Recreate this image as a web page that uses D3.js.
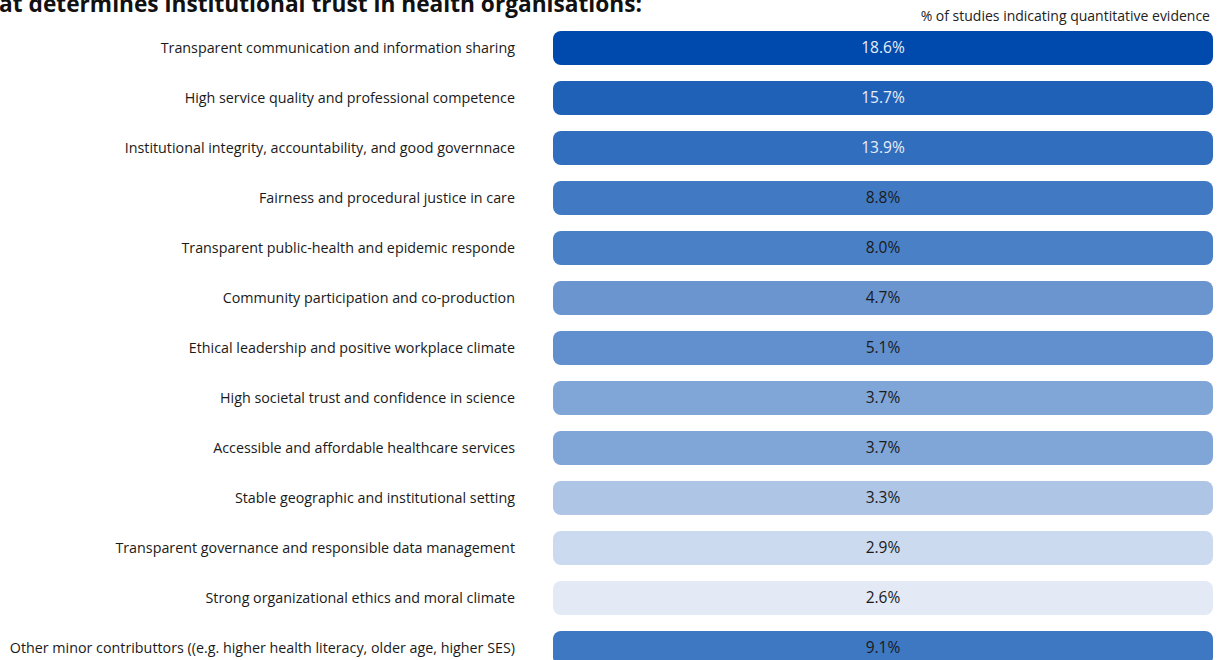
<!DOCTYPE html>
<html>
<head>
<meta charset="utf-8">
<script src="https://cdn.jsdelivr.net/npm/d3@7"></script>
<style>
  body { margin: 0; background: #fff; }
  svg { display: block; font-family: "Open Sans", sans-serif; }
</style>
</head>
<body>
<svg id="chart"></svg>
<script>
var factors = [
  "Transparent communication and information sharing",
  "High service quality and professional competence",
  "Institutional integrity, accountability, and good governnace ",
  "Fairness and procedural justice in care",
  "Transparent public-health and epidemic responde",
  "Community participation and co-production",
  "Ethical leadership and positive workplace climate",
  "High societal trust and confidence in science",
  "Accessible and affordable healthcare services",
  "Stable geographic and institutional setting",
  "Transparent governance and responsible data management",
  "Strong organizational ethics and moral climate",
  "Other minor contributtors ((e.g. higher health literacy, older age, higher SES)"
]

var shares = [18.6, 15.7, 13.9, 8.8, 8.0, 4.7, 5.1, 3.7, 3.7, 3.3, 2.9, 2.6, 9.1]

var title = "What determines institutional trust in health organisations:"
var columnHeader = "% of studies indicating quantitative evidence"

var screen = {width: 1221, height: 660}
var svg = d3.select("#chart")
    .attr("width", screen.width)
    .attr("height", screen.height)

var rows = factors.map(function(f, i) { return {factor: f, share: shares[i]} })

var yScale = d3.scaleBand()
    .domain(factors)
    .range([23, 673])
    .paddingInner(0.32)
    .paddingOuter(0.16)

// colour ramp from pale to strong blue
var colour = d3.scaleLinear()
    .domain([2.6, 2.9, 3.3, 3.7, 5.0, 8.0, 9.5, 14, 18.6])
    .range(["#e3e9f5", "#ccdaef", "#aec5e5", "#80a5d7", "#6390cd", "#4a80c6", "#3a74c1", "#326ebe", "#004aad"])
    .clamp(true)

var barLeft = 553, barRight = 1213

svg.append("text")
    .text(title)
    .attr("x", 642)
    .attr("y", 12)
    .attr("text-anchor", "end")
    .attr("font-weight", "bold")
    .attr("font-size", 22.7)
    .attr("fill", "#111")

svg.append("text")
    .text(columnHeader)
    .attr("x", 1210)
    .attr("y", 21)
    .attr("text-anchor", "end")
    .attr("font-size", 14)
    .attr("fill", "#222")

var row = svg.selectAll("g.row")
    .data(rows)
    .enter()
    .append("g")
    .classed("row", true)

row.append("text")
    .text(function(d) { return d.factor })
    .attr("x", 515)
    .attr("y", function(d) { return yScale(d.factor) + yScale.bandwidth() / 2 })
    .attr("dy", "0.35em")
    .attr("text-anchor", "end")
    .attr("font-size", 14.3)
    .attr("fill", "#1a1a1a")

row.append("rect")
    .attr("x", barLeft)
    .attr("y", function(d) { return yScale(d.factor) })
    .attr("width", barRight - barLeft)
    .attr("height", yScale.bandwidth())
    .attr("rx", 8)
    .attr("fill", function(d) { return colour(d.share) })

row.append("text")
    .text(function(d) { return d.share.toFixed(1) + "%" })
    .attr("x", (barLeft + barRight) / 2)
    .attr("y", function(d) { return yScale(d.factor) + yScale.bandwidth() / 2 })
    .attr("dy", "0.35em")
    .attr("text-anchor", "middle")
    .attr("font-size", 15.5)
    .attr("fill", function(d) { return d.share > 10 ? "#e8eef8" : "#1a1a1a" })
</script>
</body>
</html>
